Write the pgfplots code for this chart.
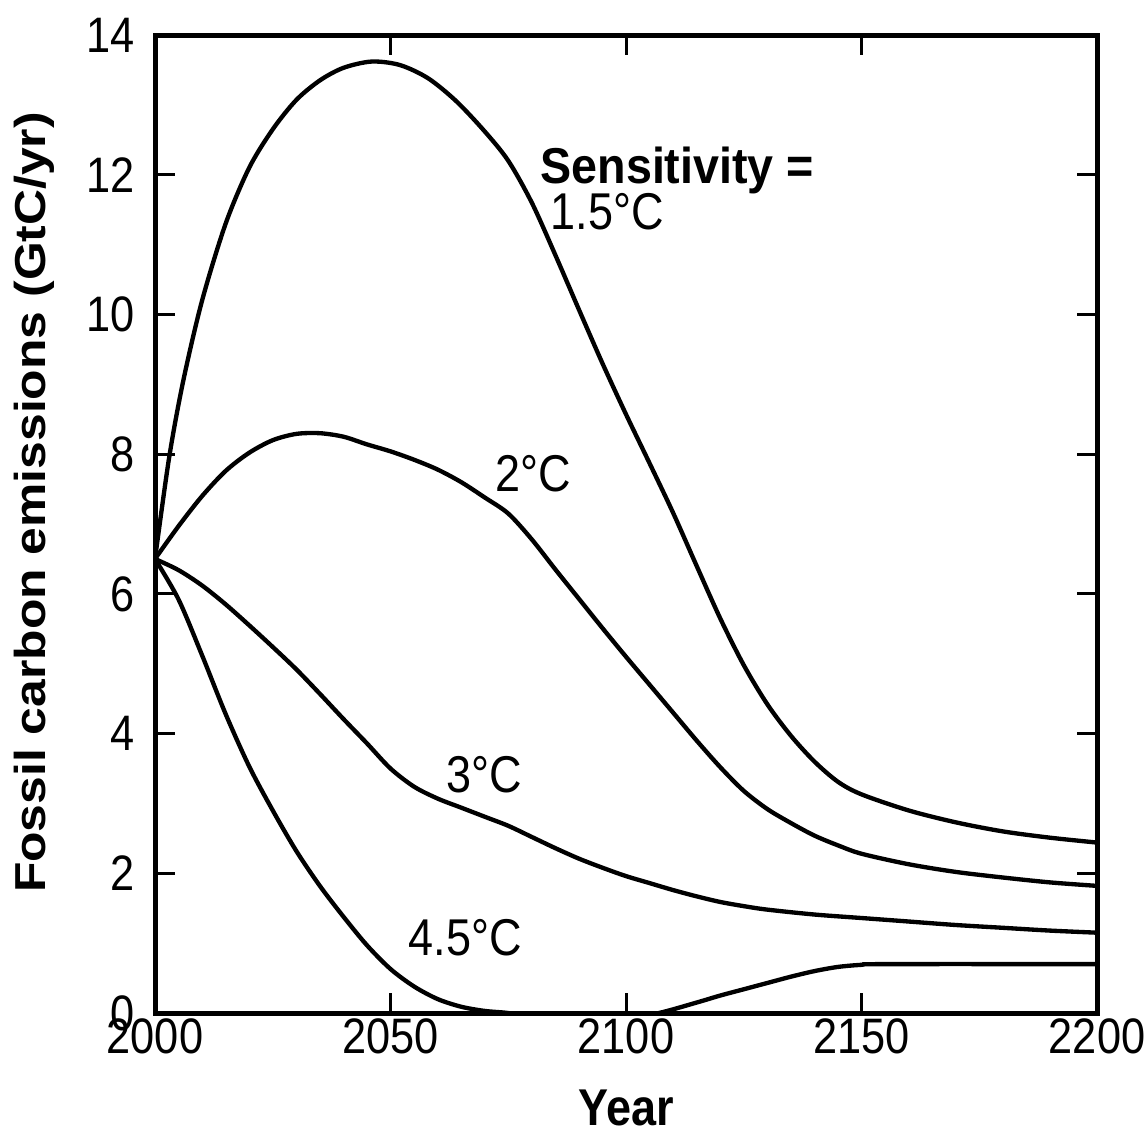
\documentclass[border=0pt]{standalone}
\usepackage{fontspec}
\setmainfont{Liberation Sans}
\usepackage{graphicx}
\usepackage{pgfplots}
\pgfplotsset{compat=1.18}
\newcommand{\vs}[1]{\scalebox{1}[1.15]{#1}}

\pgfplotstableread{
x y
2000 6.5
2003 7.95
2006 9.05
2010 10.2
2015 11.3
2020 12.1
2025 12.65
2030 13.07
2035 13.35
2040 13.53
2046 13.62
2052 13.57
2058 13.38
2064 13.05
2070 12.62
2075 12.2
2080 11.6
2085 10.85
2090 10.07
2095 9.3
2100 8.57
2105 7.87
2110 7.16
2115 6.4
2120 5.65
2125 4.98
2130 4.42
2135 3.97
2140 3.6
2145 3.31
2150 3.13
2160 2.9
2170 2.73
2180 2.6
2190 2.51
2200 2.44
}\sensA

\pgfplotstableread{
x y
2000 6.5
2005 6.97
2010 7.4
2015 7.76
2020 8.02
2025 8.2
2030 8.29
2035 8.3
2040 8.25
2045 8.14
2050 8.04
2055 7.92
2060 7.78
2065 7.6
2070 7.38
2075 7.15
2080 6.78
2085 6.35
2090 5.93
2095 5.51
2100 5.1
2105 4.7
2110 4.3
2115 3.9
2120 3.52
2125 3.18
2130 2.92
2135 2.72
2140 2.54
2145 2.4
2150 2.28
2160 2.13
2170 2.02
2180 1.94
2190 1.87
2200 1.82
}\sensB

\pgfplotstableread{
x y
2000 6.5
2005 6.34
2010 6.12
2015 5.85
2020 5.55
2025 5.24
2030 4.92
2035 4.57
2040 4.21
2045 3.86
2050 3.5
2055 3.24
2060 3.07
2065 2.94
2070 2.81
2075 2.68
2080 2.52
2085 2.36
2090 2.21
2095 2.08
2100 1.96
2105 1.86
2110 1.76
2115 1.67
2120 1.59
2125 1.53
2130 1.48
2140 1.41
2150 1.36
2160 1.31
2170 1.26
2180 1.22
2190 1.18
2200 1.15
}\sensC

\pgfplotstableread{
x y
2000 6.5
2005 5.92
2010 5.12
2015 4.28
2020 3.53
2025 2.9
2030 2.32
2035 1.82
2040 1.38
2045 0.97
2050 0.63
2055 0.38
2060 0.2
2065 0.09
2070 0.03
2075 0.0
2080 -0.06
2090 -0.12
2100 -0.08
2107 0.0
2115 0.15
2120 0.25
2125 0.34
2130 0.43
2135 0.52
2140 0.6
2145 0.66
2150 0.69
2155 0.7
2200 0.7
}\sensD

\begin{document}
\begin{tikzpicture}
\useasboundingbox (-46.5pt,-37.2pt) rectangle (297.9pt,303.9pt);
\begin{axis}[
  at={(0pt,0pt)}, anchor=south west,
  scale only axis, width=282.6pt, height=293.4pt,
  xmin=2000, xmax=2200, ymin=0, ymax=14,
  xtick={2000,2050,2100,2150,2200},
  xticklabels={\vs{2000},\vs{2050},\vs{2100},\vs{2150},\vs{2200}},
  ytick={0,2,4,6,8,10,12,14},
  yticklabels={\vs{0},\vs{2},\vs{4},\vs{6},\vs{8},\vs{10},\vs{12},\vs{14}},
  tick align=inside, tick pos=both,
  major tick length=6pt,
  every tick/.style={black, line width=0.9pt},
  axis line style={line width=1.5pt},
  ticklabel style={font=\fontsize{13}{15}\selectfont},
  xticklabel style={inner sep=0pt, yshift=-1.5pt},
  yticklabel style={inner sep=0pt, xshift=-6pt},
  xlabel={\vs{\textbf{Year}}},
  xlabel style={at={(axis description cs:0.5,0)}, anchor=north, inner sep=0pt, yshift=-23pt, font=\fontsize{13.5}{15}\selectfont},
  ylabel={\scalebox{1.15}[1]{\textbf{Fossil carbon emissions (GtC/yr)}}},
  ylabel style={at={(axis description cs:-0.1062,0.522)}, anchor=south, inner sep=0pt, font=\fontsize{13}{15}\selectfont},
]
\addplot[black, line width=1.3pt, smooth] table[x=x,y=y] {\sensA};
\addplot[black, line width=1.3pt, smooth] table[x=x,y=y] {\sensB};
\addplot[black, line width=1.3pt, smooth] table[x=x,y=y] {\sensC};
\addplot[black, line width=1.3pt, smooth] table[x=x,y=y] {\sensD};
\node[anchor=base west, inner sep=0pt, font=\fontsize{14}{16}\selectfont\bfseries] at (axis cs:2081.7,11.88) {\scalebox{1}[1.08]{Sensitivity =}};
\node[anchor=base west, inner sep=0pt, font=\fontsize{13.5}{15}\selectfont] at (axis cs:2083.9,11.21) {\vs{1.5°C}};
\node[anchor=base west, inner sep=0pt, font=\fontsize{13.5}{15}\selectfont] at (axis cs:2072.2,7.46) {\vs{2°C}};
\node[anchor=base west, inner sep=0pt, font=\fontsize{13.5}{15}\selectfont] at (axis cs:2061.8,3.15) {\vs{3°C}};
\node[anchor=base west, inner sep=0pt, font=\fontsize{13.5}{15}\selectfont] at (axis cs:2053.7,0.83) {\vs{4.5°C}};
\end{axis}
\end{tikzpicture}
\end{document}
